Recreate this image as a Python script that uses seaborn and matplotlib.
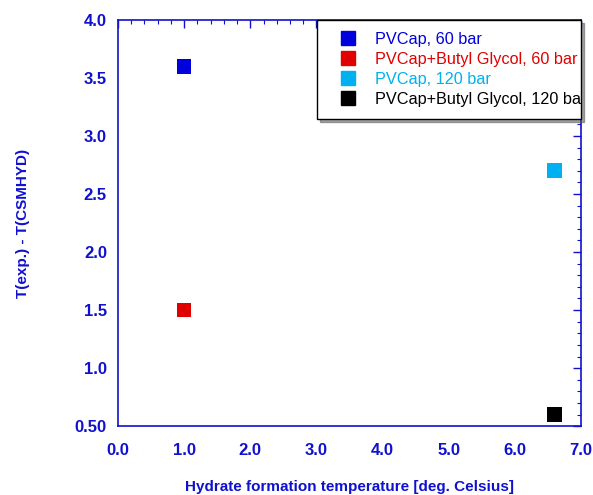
import pandas as pd
import seaborn as sns
import matplotlib.pyplot as plt
from matplotlib.ticker import MultipleLocator, FixedFormatter, FixedLocator

# data
series = ['PVCap, 60 bar', 'PVCap+Butyl Glycol, 60 bar', 'PVCap, 120 bar', 'PVCap+Butyl Glycol, 120 bar']
temp = [1.0, 1.0, 6.6, 6.6]
delta_t = [3.6, 1.5, 2.7, 0.6]
colors = ['#0000dd', '#e00000', '#00b0f0', '#000000']

df = pd.DataFrame({'series': series, 'temp': temp, 'delta_t': delta_t})

sns.set_style('white')
plt.rcParams['font.family'] = ['Liberation Sans', 'DejaVu Sans']

blue = '#1010d0'
fig = plt.figure(figsize=(5.93, 4.95), dpi=100)
ax = fig.add_axes([0.199, 0.139, 0.781, 0.821])

sns.scatterplot(data=df, x='temp', y='delta_t', hue='series', palette=colors,
                marker='s', s=110, edgecolor='none', ax=ax, legend=False)

ax.set_xlim(0, 7)
ax.set_ylim(0.5, 4.0)
ax.xaxis.set_major_locator(MultipleLocator(1.0))
ax.xaxis.set_minor_locator(MultipleLocator(0.2))
ax.yaxis.set_major_locator(FixedLocator([0.5, 1.0, 1.5, 2.0, 2.5, 3.0, 3.5, 4.0]))
ax.yaxis.set_major_formatter(FixedFormatter(['0.50', '1.0', '1.5', '2.0', '2.5', '3.0', '3.5', '4.0']))
ax.yaxis.set_minor_locator(MultipleLocator(0.1))
ax.xaxis.set_major_formatter(plt.FuncFormatter(lambda v, p: f'{v:.1f}'))

ax.tick_params(which='both', direction='in', top=True, right=True, colors=blue,
               labelcolor=blue)
ax.tick_params(which='major', length=6, width=1)
ax.tick_params(which='minor', length=3, width=0.8)
ax.tick_params(axis='x', pad=12)
ax.tick_params(axis='y', pad=8)
for lab in ax.get_xticklabels() + ax.get_yticklabels():
    lab.set_fontweight('bold')
    lab.set_fontsize(12)
for sp in ax.spines.values():
    sp.set_color(blue)
    sp.set_linewidth(1.2)

ax.set_xlabel('Hydrate formation temperature [deg. Celsius]', color=blue,
              fontweight='bold', fontsize=11, labelpad=16)
ax.set_ylabel('T(exp.) - T(CSMHYD)', color=blue, fontweight='bold',
              fontsize=11, labelpad=32)

# legend box spans from x~317 px to the right axis edge, text runs past it
handles = [plt.Line2D([], [], marker='s', linestyle='none', markersize=10,
                      color=c) for c in colors]
leg = ax.legend(handles, series, loc='upper left', bbox_to_anchor=(0.43, 0.0, 0.57, 1.0),
                mode='expand', frameon=True, fancybox=False, shadow=True, fontsize=11.7,
                borderpad=0.75, handletextpad=0.5, labelspacing=0.3,
                borderaxespad=0, handlelength=2.3)
leg.get_frame().set_edgecolor('black')
leg.get_frame().set_linewidth(1.0)
for t, c in zip(leg.get_texts(), colors):
    t.set_color(c)
    t.set_clip_on(True)
    t.set_clip_box(ax.bbox)

plt.savefig('out.png', dpi=100)
